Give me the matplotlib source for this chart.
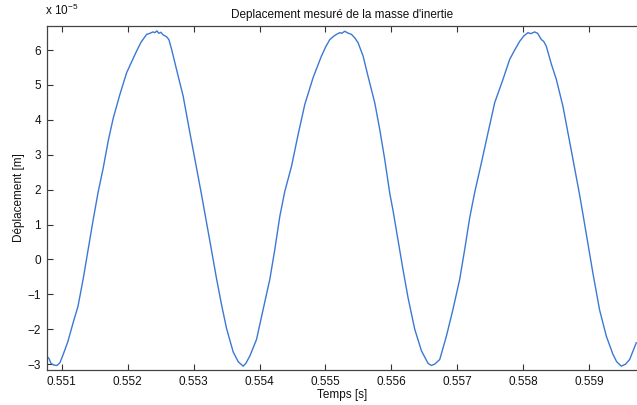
import matplotlib
matplotlib.use("Agg")
import matplotlib.pyplot as plt

# Time samples [s] and displacement [x 1e-5 m]
temps = [
    0.550773, 0.550808, 0.550838, 0.550883, 0.550929, 0.550974, 0.551024,
    0.551095, 0.551176, 0.551247, 0.551327, 0.551403, 0.551479, 0.551555,
    0.551630, 0.551706, 0.551782, 0.551883, 0.551985, 0.552050, 0.552136,
    0.552202, 0.552288, 0.552338, 0.552383, 0.552414, 0.552444, 0.552474,
    0.552505, 0.552535, 0.552591, 0.552626, 0.552667, 0.552742, 0.552842,
    0.552944, 0.553045, 0.553121, 0.553197, 0.553273, 0.553348, 0.553424,
    0.553500, 0.553600, 0.553676, 0.553752, 0.553792, 0.553853, 0.553955,
    0.554055, 0.554156, 0.554232, 0.554308, 0.554383, 0.554485, 0.554585,
    0.554686, 0.554812, 0.554939, 0.555005, 0.555065, 0.555126, 0.555167,
    0.555217, 0.555247, 0.555292, 0.555338, 0.555394, 0.555444, 0.555494,
    0.555570, 0.555645, 0.555747, 0.555823, 0.555898, 0.555974, 0.556024,
    0.556100, 0.556176, 0.556252, 0.556353, 0.556455, 0.556555, 0.556606,
    0.556656, 0.556732, 0.556833, 0.556933, 0.557035, 0.557111, 0.557186,
    0.557262, 0.557364, 0.557464, 0.557565, 0.557691, 0.557792, 0.557868,
    0.557944, 0.558005, 0.558070, 0.558111, 0.558171, 0.558217, 0.558273,
    0.558308, 0.558348, 0.558424, 0.558500, 0.558600, 0.558676, 0.558752,
    0.558853, 0.558903, 0.558979, 0.559055, 0.559156, 0.559258, 0.559358,
    0.559414, 0.559485, 0.559550, 0.559611, 0.559712,
]
deplacement = [
    -2.78, -2.84, -2.98, -3.03, -3.04, -2.96, -2.72,
    -2.35, -1.80, -1.35, -0.55, 0.30, 1.15, 1.95,
    2.62, 3.40, 4.05, 4.73, 5.35, 5.62, 5.97,
    6.22, 6.45, 6.48, 6.52, 6.50, 6.55, 6.48,
    6.51, 6.44, 6.38, 6.30, 6.02, 5.44, 4.68,
    3.63, 2.62, 1.85, 1.05, 0.25, -0.55, -1.30,
    -1.98, -2.65, -2.93, -3.06, -2.98, -2.77, -2.29,
    -1.43, -0.57, 0.29, 1.24, 1.95, 2.67, 3.58,
    4.44, 5.21, 5.83, 6.10, 6.30, 6.40, 6.45,
    6.50, 6.48, 6.54, 6.49, 6.45, 6.35, 6.21,
    5.83, 5.25, 4.49, 3.72, 2.87, 1.90, 1.40,
    0.55, -0.30, -1.10, -2.00, -2.62, -2.98, -3.04,
    -3.00, -2.87, -2.20, -1.43, -0.57, 0.29, 1.19,
    1.92, 2.77, 3.63, 4.49, 5.16, 5.73, 6.00,
    6.25, 6.40, 6.50, 6.47, 6.52, 6.48, 6.30,
    6.25, 6.11, 5.60, 5.16, 4.39, 3.63, 2.87,
    1.85, 1.30, 0.45, -0.40, -1.45, -2.20, -2.72,
    -2.93, -3.06, -3.00, -2.87, -2.39,
]
x_ticks = [0.551, 0.552, 0.553, 0.554, 0.555, 0.556, 0.557, 0.558, 0.559]
y_ticks = [-3, -2, -1, 0, 1, 2, 3, 4, 5, 6]

plt.rcParams["font.family"] = ["Liberation Sans", "DejaVu Sans"]
plt.rcParams["mathtext.fontset"] = "custom"
plt.rcParams["mathtext.rm"] = "Liberation Sans"

fig = plt.figure(figsize=(6.37, 4.05), dpi=100)
ax = fig.add_axes([0.0733, 0.0864, 0.9267, 0.8494])

ax.plot(temps, deplacement, color="#3b78d4", linewidth=1.0)

ax.set_xlim(0.550773, 0.559723)
ax.set_ylim(-3.17, 6.69)
ax.set_xticks(x_ticks)
ax.set_xticklabels([f"{t:.3f}" for t in x_ticks])
ax.set_yticks(y_ticks)
ax.set_yticklabels([str(v).replace("-", "\u2212") for v in y_ticks])

ax.tick_params(direction="in", length=4, width=0.8, labelsize=8.5,
               colors="#333333", labelcolor="#111111", top=True, pad=4)
for side in ["left", "bottom", "top"]:
    ax.spines[side].set_color("#444444")
    ax.spines[side].set_linewidth(0.9)
ax.spines["right"].set_visible(False)

ax.set_title("Deplacement mesuré de la masse d'inertie", fontsize=8.5,
             color="#111111", pad=6)
ax.set_xlabel("Temps [s]", fontsize=8.5, color="#111111", labelpad=1)
ax.set_ylabel("Déplacement [m]", fontsize=8.5, color="#111111", labelpad=2)
fig.text(0.071, 0.955, "x 10$^{\\mathregular{\u22125}}$", fontsize=8.5,
         color="#111111", ha="left", va="bottom")

fig.savefig("out.png", dpi=100)
